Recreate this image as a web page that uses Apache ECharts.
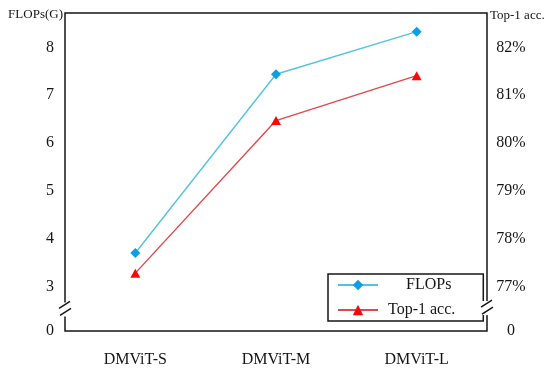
<!DOCTYPE html>
<html>
<head>
<meta charset="utf-8">
<script src="https://cdn.jsdelivr.net/npm/echarts@6/dist/echarts.min.js"></script>
<style>html,body{margin:0;padding:0;background:#fff}#c{width:550px;height:374px}</style>
</head>
<body>
<div id="c"></div>
<script>
const categories = ['DMViT-S', 'DMViT-M', 'DMViT-L'];
const flops = [3.70, 7.44, 8.33];
const top1 = [77.28, 80.47, 81.41];
const leftTicks = [3, 4, 5, 6, 7, 8];
const rightTicks = [77, 78, 79, 80, 81, 82];
const leftBreakLabel = '0';
const rightBreakLabel = '0';

const LEFT_MIN = 2.07, LEFT_MAX = 8.72;
const RIGHT_MIN = 76.07, RIGHT_MAX = 82.72;
const BREAK_L = 2.52, BREAK_R = 76.55;
const GRID = {left: 65, right: 63, top: 13, bottom: 43};
const FONT = "'Liberation Serif', 'Times New Roman', serif";
const INK = '#161616';

const chart = echarts.init(document.getElementById('c'), null, {renderer: 'canvas'});
chart.setOption({
  animation: false,
  backgroundColor: '#fff',
  textStyle: {fontFamily: FONT, color: INK},
  grid: {left: GRID.left, right: GRID.right, top: GRID.top, bottom: GRID.bottom,
         show: true, borderColor: INK, borderWidth: 1.5, backgroundColor: 'transparent'},
  legend: {
    orient: 'vertical', left: 328, top: 274,
    backgroundColor: '#fff', borderColor: INK, borderWidth: 1.5,
    padding: [3, 28, 3, 9], itemGap: 9, itemWidth: 40, itemHeight: 13,
    data: ['FLOPs', 'Top-1 acc.'],
    formatter: n => n === 'FLOPs' ? '{f|' + n + '}' : '{t|' + n + '}',
    textStyle: {fontFamily: FONT, fontSize: 16, color: INK,
      rich: {f: {fontFamily: FONT, fontSize: 16, color: INK, lineHeight: 17, padding: [0, 0, 0, 23]},
             t: {fontFamily: FONT, fontSize: 16, color: INK, lineHeight: 17, padding: [0, 0, 0, 5]}}}
  },
  xAxis: {
    type: 'category', data: categories, boundaryGap: true,
    axisLine: {show: false}, axisTick: {show: false}, splitLine: {show: false},
    axisLabel: {fontFamily: FONT, fontSize: 16, color: INK, margin: 21}
  },
  yAxis: [{
    type: 'value', min: LEFT_MIN, max: LEFT_MAX, position: 'left',
    axisLine: {show: false}, axisTick: {show: false}, splitLine: {show: false},
    axisLabel: {fontFamily: FONT, fontSize: 16, color: INK, margin: 11,
      customValues: [LEFT_MIN].concat(leftTicks),
      formatter: v => Math.abs(v - LEFT_MIN) < 1e-6 ? leftBreakLabel : String(v)},
    name: 'FLOPs(G)', nameLocation: 'end', nameGap: -2,
    nameTextStyle: {fontFamily: FONT, fontSize: 13, color: INK, align: 'right', verticalAlign: 'middle', padding: [0, 2, 0, 0]}
  }, {
    type: 'value', min: RIGHT_MIN, max: RIGHT_MAX, position: 'right',
    axisLine: {show: false}, axisTick: {show: false}, splitLine: {show: false},
    axisLabel: {fontFamily: FONT, fontSize: 16, color: INK, margin: 24, align: 'center',
      customValues: [RIGHT_MIN].concat(rightTicks),
      formatter: v => Math.abs(v - RIGHT_MIN) < 1e-6 ? rightBreakLabel : v + '%'},
    name: 'Top-1 acc.', nameLocation: 'end', nameGap: -3,
    nameTextStyle: {fontFamily: FONT, fontSize: 13, color: INK, align: 'left', verticalAlign: 'middle', padding: [0, 0, 0, 3]}
  }],
  series: [{
    name: 'FLOPs', type: 'line', yAxisIndex: 0, data: flops,
    symbol: 'diamond', symbolSize: 10, showSymbol: true,
    itemStyle: {color: '#0A9FE6'}, lineStyle: {color: '#55C3DD', width: 1.4}, z: 3
  }, {
    name: 'Top-1 acc.', type: 'line', yAxisIndex: 1, data: top1,
    symbol: 'triangle', symbolSize: [10, 9], showSymbol: true,
    itemStyle: {color: '#F50A0A'}, lineStyle: {color: '#E0484B', width: 1.4}, z: 3
  }]
});

function breakMark(x, y) {
  return [
    {type: 'rect', z: 100, shape: {x: x - 6, y: y - 7, width: 12, height: 14}, style: {fill: '#fff'}},
    {type: 'line', z: 101, shape: {x1: x - 6, y1: y - 1, x2: x + 5, y2: y - 8}, style: {stroke: INK, lineWidth: 1.5}},
    {type: 'line', z: 101, shape: {x1: x - 5, y1: y + 6, x2: x + 6, y2: y - 1}, style: {stroke: INK, lineWidth: 1.5}}
  ];
}
const yl = chart.convertToPixel({yAxisIndex: 0}, BREAK_L);
const yr = chart.convertToPixel({yAxisIndex: 1}, BREAK_R);
const xl = GRID.left, xr = 550 - GRID.right;
chart.setOption({graphic: breakMark(xl, yl).concat(breakMark(xr, yr))});
</script>
</body>
</html>
